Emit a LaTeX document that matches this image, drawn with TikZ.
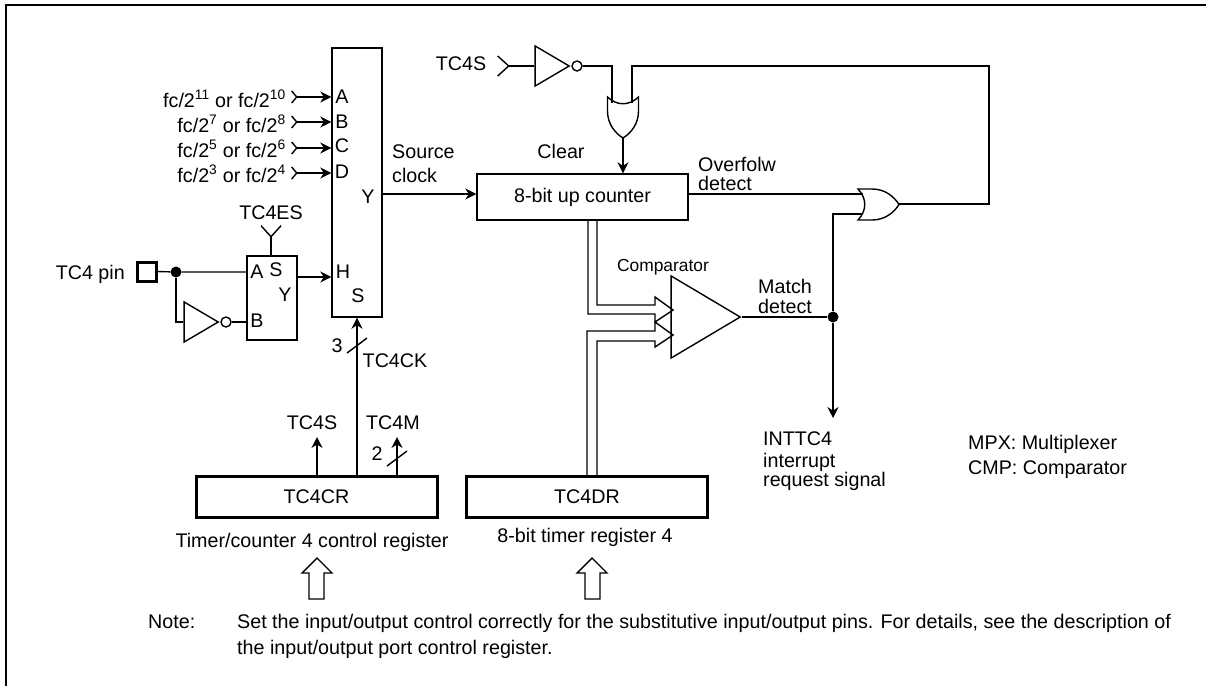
\documentclass[tikz,border=0pt]{standalone}
\usepackage{fontspec}
\setmainfont{Liberation Sans}
\usetikzlibrary{arrows.meta,shapes.geometric}
\tikzset{
  every node/.style={inner sep=0pt,font=\fontsize{19.7}{23}\selectfont},
  wire/.style={line width=1.4pt},
  sig/.style={wire,-{Stealth[length=11pt,width=11pt]}},
  chevin/.style={wire,{Straight Barb[reversed,length=5pt,width=12pt]}-{Stealth[length=11pt,width=11pt]}},
  chevfork/.style={wire,{Straight Barb[reversed,length=11pt,width=20pt]}-},
  box/.style={draw,line width=1.4pt,minimum width=#1},
  regbox/.style={draw,line width=3pt,minimum width=241pt,minimum height=41pt},
  gatetri/.style={draw,line width=1.4pt,isosceles triangle,isosceles triangle stretches,anchor=apex},
  bubble/.style={draw,line width=1.4pt,circle,minimum size=10pt},
  dotjoin/.style={fill,circle,minimum size=11pt},
  orgate/.pic={\draw[line width=1.4pt] (0,-15.5) .. controls (9,-6) and (9,6) .. (0,15.5)
    -- (14,15.5) .. controls (27,15.5) and (36,8) .. (41,0) .. controls (36,-8) and (27,-15.5) .. (14,-15.5) -- cycle;},
}
\begin{document}
\begin{tikzpicture}[x=1pt,y=-1pt]
\useasboundingbox (0,0) rectangle (1206,686);
\draw[line width=1.7pt] (6,686) -- (6,5) -- (1206,5);

\node[box=50pt,minimum height=269pt] (mpx) at (357,182.5) {};
\node[box=50pt,minimum height=84pt] (sel) at (272,298) {};
\node[box=211pt,minimum height=46pt] (counter) at (582.5,197) {8-bit up counter};
\node[regbox] (regcr) at (316.5,496.5) {TC4CR};
\node[regbox] (regdr) at (587,496.5) {TC4DR};
\node[draw,line width=3pt,minimum size=19pt] (pin) at (146.5,271.5) {};

\node[anchor=base east] (lblA) at (286,107) {fc/2\textsuperscript{11} or fc/2\textsuperscript{10}};
\node[anchor=base east] (lblB) at (286,132) {fc/2\textsuperscript{7} or fc/2\textsuperscript{8}};
\node[anchor=base east] (lblC) at (286,157) {fc/2\textsuperscript{5} or fc/2\textsuperscript{6}};
\node[anchor=base east] (lblD) at (286,182) {fc/2\textsuperscript{3} or fc/2\textsuperscript{4}};
\coordinate (inA) at (291,97);
\coordinate (inB) at (291,122);
\coordinate (inC) at (291,148);
\coordinate (inD) at (291,173);
\draw[chevin] (inA) -- (inA -| mpx.west);
\draw[chevin] (inB) -- (inB -| mpx.west);
\draw[chevin] (inC) -- (inC -| mpx.west);
\draw[chevin] (inD) -- (inD -| mpx.west);
\node (mpxA) at (342,97) {A};
\node (mpxB) at (342,122) {B};
\node (mpxC) at (342,146) {C};
\node (mpxD) at (342,172) {D};
\node (mpxY) at (368,197) {Y};
\node (mpxH) at (343,272) {H};
\node (mpxS) at (358,296) {S};

\node[anchor=east] (pinlbl) at (125,274) {TC4 pin};
\node[dotjoin] (dotpin) at (176,272) {};
\node[gatetri,minimum width=40pt,minimum height=34pt] (invpin) at (220,322) {};
\node[bubble] (bubpin) at (226,322) {};
\draw[wire] (pin.east) -- (dotpin) -- (dotpin -| sel.west);
\draw[wire] (dotpin) |- (invpin.west);
\draw[wire] (bubpin) -- (bubpin -| sel.west);
\node (selA) at (257,272) {A};
\node (selB) at (257,321) {B};
\node (selS) at (276,270) {S};
\node (selY) at (285,295) {Y};
\node (eslbl) at (271,213) {TC4ES};
\coordinate (esin) at (271,225);
\draw[chevfork] (esin) -- (esin |- sel.north);
\coordinate (selout) at (297,277);
\draw[sig] (selout) -- (selout -| mpx.west);

\node[align=left,anchor=west] (srclbl) at (392,164) {Source\\[1pt]clock};
\coordinate (mpxout) at (382,194);
\draw[sig] (mpxout) -- (mpxout -| counter.west);

\coordinate (ckout) at (357,476);
\draw[sig] (ckout) -- (ckout |- mpx.south);
\coordinate (ckbus) at (357,345);
\draw[wire] (ckbus) ++(-10,8) -- ++(20,-15);
\node (cknum) at (337,346) {3};
\node (cklbl) at (395,361) {TC4CK};

\coordinate (sout) at (317,476);
\coordinate (sin) at (317,437);
\draw[sig] (sout) -- (sin);
\node (slbl) at (312,423) {TC4S};
\coordinate (mout) at (397,476);
\coordinate (min) at (397,437);
\draw[sig] (mout) -- (min);
\coordinate (mbus) at (397,458.5);
\draw[wire] (mbus) ++(-10,7.5) -- ++(20,-15);
\node (mnum) at (377,454) {2};
\node (mlbl) at (393,423) {TC4M};
\node (crlbl) at (312,542) {Timer/counter 4 control register};
\node (drlbl) at (585,537) {8-bit timer register 4};

\draw[wire] (309,599) -- (309,573) -- (302,573) -- (317,558) -- (332,573) -- (324,573) -- (324,599) -- cycle;
\draw[wire] (585,599) -- (585,573) -- (577,573) -- (592,558) -- (607,573) -- (600,573) -- (600,599) -- cycle;

\node (tslbl) at (461,64) {TC4S};
\coordinate (tsin) at (497,66);
\node[gatetri,minimum width=40pt,minimum height=34pt] (invclr) at (571,66) {};
\node[bubble] (bubclr) at (577,66) {};
\draw[chevfork] (tsin) -- (invclr.west |- tsin);
\coordinate (orclrA) at (612,103);
\coordinate (orclrB) at (632,103);
\coordinate (orclrout) at (623,138);
\pic[rotate=-90] at (623,97) {orgate};
\draw[wire] (bubclr) -| (orclrA);
\coordinate (loop) at (989,66);
\draw[wire] (orclrB) |- (loop) |- (899,204);
\draw[sig] (orclrout) -- (orclrout |- counter.north);
\node (clrlbl) at (561,151) {Clear};

\coordinate (ovf) at (688,194);
\pic at (858,204.5) {orgate};
\coordinate (ovfin) at (863,194);
\coordinate (matchin) at (863,214);
\draw[wire] (ovf) -- (ovfin);
\node[align=left,anchor=west] (ovflbl) at (698,173.5) {Overfolw\\[-4pt]detect};

\node[gatetri,minimum width=82pt,minimum height=69pt] (cmp) at (742,317) {};
\node[font=\fontsize{17.4}{20}\selectfont] (cmplbl) at (663,267) {Comparator};
\node[dotjoin] (dotmatch) at (833,317) {};
\coordinate (intout) at (833,418);
\draw[wire] (cmp.apex) -- (dotmatch);
\draw[wire] (matchin) -| (dotmatch);
\draw[sig] (dotmatch) -- (intout);
\node[align=center] (matchlbl) at (785,296) {Match\\[-3pt]detect};
\node[align=left,anchor=north west] (intlbl) at (763,432) {INTTC4\\[-1pt]interrupt\\[-4pt]request signal};

\draw[wire] (588,220) -- (588,314) -- (655,314) -- (655,322) -- (673,310) -- (655,297) -- (655,305) -- (597,305) -- (597,220);
\draw[wire] (587,476) -- (587,331) -- (655,331) -- (655,322) -- (673,335) -- (655,347) -- (655,341) -- (597,341) -- (597,476);

\node[anchor=west] (mpxkey) at (968,444) {MPX: Multiplexer};
\node[anchor=west] (cmpkey) at (968,470) {CMP: Comparator};

\node[anchor=base west] (notelbl) at (148,628) {Note:};
\node[anchor=base west] (noteA) at (237,628) {Set the input/output control correctly for the substitutive input/output pins. For details, see the description of};
\node[anchor=base west] (noteB) at (237,654) {the input/output port control register.};
\end{tikzpicture}
\end{document}
